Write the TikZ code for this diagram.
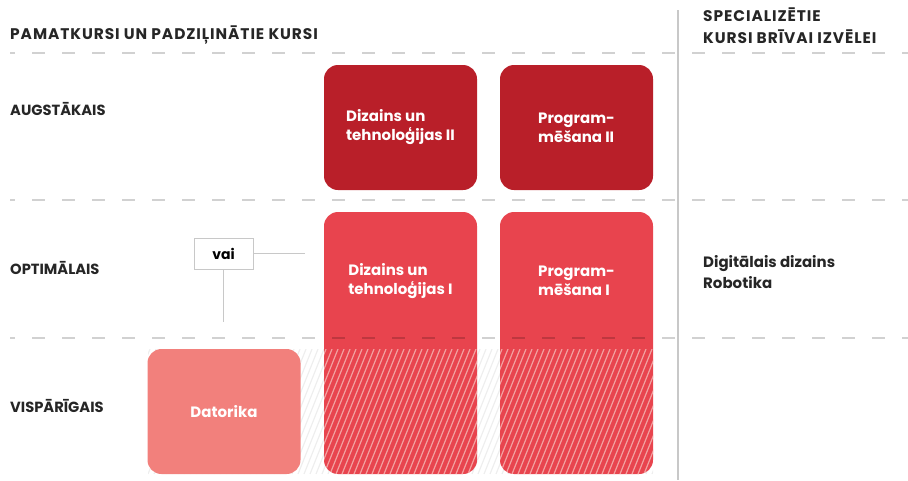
\documentclass[tikz,border=0pt]{standalone}
\usepackage{fontspec}
\setmainfont{Poppins}
\newfontfamily\spacedfont[LetterSpace=6]{Poppins}
\definecolor{darkred}{HTML}{B91F29}
\definecolor{midred}{HTML}{E8444E}
\definecolor{lightred}{HTML}{F2807C}
\definecolor{hatchpink}{HTML}{F2A0A0}
\definecolor{hatchgray}{HTML}{EEEEEE}
\definecolor{linegray}{HTML}{C8C8C8}
\tikzset{
	heading/.style={anchor=north west, inner sep=0pt, align=left, font=\spacedfont\bfseries\fontsize{15.4}{21.5}\selectfont, text=black!85},
	rowlabel/.style={anchor=west, inner sep=0pt, font=\bfseries\fontsize{14.7}{16}\selectfont, text=black!85},
	boxtext/.style={inner sep=0pt, align=left, text=white, font=\bfseries\fontsize{15}{19}\selectfont},
	topbox/.style={boxtext, fill=darkred, rounded corners=14, minimum width=153, minimum height=125},
	basebox/.style={boxtext, fill=lightred, rounded corners=14, minimum width=153, minimum height=125},
	midfill/.style={fill=midred, rounded corners=14},
	gridline/.style={black, opacity=0.18, line width=1.5, dash pattern=on 13 off 17, dash phase=8},
	conn/.style={linegray, line width=1},
	hatch/.style={line width=1.2},
}
\begin{document}
\begin{tikzpicture}[x=1pt, y=-1pt]
	\useasboundingbox (0,0) rectangle (908,480);
	\draw[linegray, line width=1.5] (678,10) -- (678,480);
	\node[heading] (title) at (10,26) {PAMATKURSI UN PADZIĻINĀTIE KURSI};
	\node[heading] (spec) at (703,8) {SPECIALIZĒTIE\\KURSI BRĪVAI IZVĒLEI};
	\begin{scope}
		\clip (148,349) rectangle (653,474);
		\foreach \i in {-10,...,90} \draw[hatch, hatchgray] (148+\i*6,474) -- ++(52,-130);
	\end{scope}
	\node[topbox] (dt2) at (400.5,127.5) {Dizains un\\tehnoloģijas II};
	\node[topbox] (pr2) at (576.5,127.5) {Program-\\mēšana II};
	\fill[midfill] (324,212) rectangle (477,474);
	\fill[midfill] (500,212) rectangle (653,474);
	\begin{scope}
		\clip[rounded corners=14] (324,212) rectangle (477,474);
		\clip (300,349) rectangle (700,480);
		\foreach \i in {-10,...,30} \draw[hatch, hatchpink] (324+\i*6,474) -- ++(52,-130);
	\end{scope}
	\begin{scope}
		\clip[rounded corners=14] (500,212) rectangle (653,474);
		\clip (300,349) rectangle (700,480);
		\foreach \i in {-10,...,30} \draw[hatch, hatchpink] (500+\i*6,474) -- ++(52,-130);
	\end{scope}
	\node[boxtext] (dt1) at (400.5,281) {Dizains un\\tehnoloģijas I};
	\node[boxtext] (pr1) at (576.5,281) {Program-\\mēšana I};
	\node[basebox] (dat) at (224,411.5) {Datorika};
	\node[draw=linegray, line width=1, minimum width=59, minimum height=31, inner sep=0pt, font=\bfseries\fontsize{14}{16}\selectfont] (vai) at (223.5,253.5) {vai};
	\coordinate (vaiR) at (305,253.5);
	\coordinate (vaiB) at (223.5,322);
	\draw[conn] (vai.east) -- (vaiR);
	\draw[conn] (vai.south) -- (vaiB);
	\foreach \y in {53,200,338} \draw[gridline] (10,\y) -- (908,\y);
	\node[rowlabel] (augst) at (10,109) {AUGSTĀKAIS};
	\node[rowlabel] (optim) at (10,268) {OPTIMĀLAIS};
	\node[rowlabel] (visp) at (10,406) {VISPĀRĪGAIS};
	\node[anchor=west, inner sep=0pt, align=left, font=\bfseries\fontsize{15}{21}\selectfont, text=black!85] (izv) at (703,272) {Digitālais dizains\\Robotika};
\end{tikzpicture}
\end{document}
